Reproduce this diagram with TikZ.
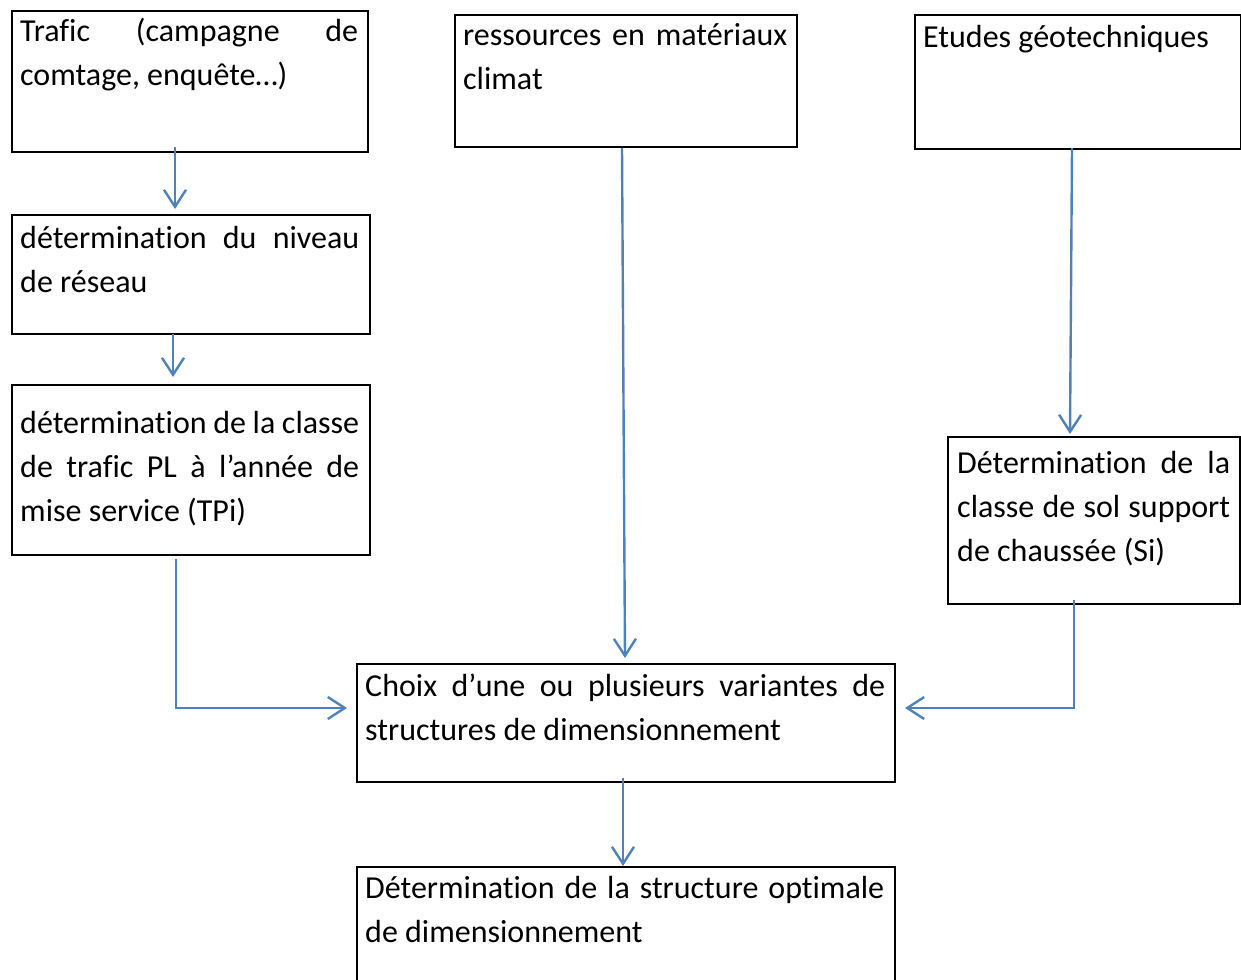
\documentclass[tikz,border=0pt]{standalone}
\usepackage{fontspec}
\setmainfont{Carlito}[RawFeature={-liga;-clig;-dlig;-calt}]
\usetikzlibrary{positioning,arrows.meta}

\definecolor{flowblue}{RGB}{79,129,189}

\tikzset{
  box/.style={draw=black, line width=2pt, anchor=north west, inner sep=0pt},
  txt/.style={anchor=north west, inner sep=0pt, align=justify},
  flow/.style={draw=flowblue, line width=2.4pt, -{Straight Barb[length=17pt, width=22pt]}}
}

\begin{document}
\begin{tikzpicture}[x=1pt, y=-1pt]

\useasboundingbox (0,0) rectangle (1241,979);
\fontsize{32}{44}\selectfont
\lefthyphenmin=64

% boxes
\node [box, minimum width=356pt, minimum height=141pt] (traf) at (11,10) {};
\node [box, minimum width=342pt, minimum height=132pt] (ress) at (454,14) {};
\node [box, minimum width=326pt, minimum height=134pt] (geo) at (914,14) {};
\node [box, minimum width=358pt, minimum height=119pt] (reseau) at (11,214) {};
\node [box, minimum width=358pt, minimum height=170pt] (classtpi) at (11,384) {};
\node [box, minimum width=292pt, minimum height=167pt] (sol) at (947,436) {};
\node [box, minimum width=538pt, minimum height=118pt] (choix) at (356,663) {};
\node [box, minimum width=538pt, minimum height=140pt] (optim) at (356,866) {};

% texts
\node [txt, text width=338pt] (traf-t) at ([xshift=9pt, yshift=-1pt]traf.north west)
  {\strut Trafic (campagne de\linebreak comtage, enquête…)};
\node [txt, text width=324pt] (ress-t) at ([xshift=9pt, yshift=-1pt]ress.north west)
  {\strut ressources en matériaux\linebreak climat};
\node [txt, text width=310pt] (geo-t) at ([xshift=9pt, yshift=-3pt]geo.north west)
  {\strut Etudes géotechniques};
\node [txt, text width=339pt] (reseau-t) at ([xshift=9pt, yshift=-3pt]reseau.north west)
  {\strut détermination du niveau\linebreak de réseau};
\node [txt, text width=339pt] (classtpi-t) at ([xshift=9pt, yshift=-18pt]classtpi.north west)
  {\strut détermination de la classe\linebreak de trafic PL à l’année de\linebreak mise service (TPi)};
\node [txt, text width=273pt] (sol-t) at ([xshift=10pt, yshift=-6pt]sol.north west)
  {\strut Détermination de la\linebreak classe de sol support\linebreak de chaussée (Si)};
\node [txt, text width=520pt] (choix-t) at ([xshift=9pt, yshift=-2pt]choix.north west)
  {\strut Choix d’une ou plusieurs variantes de\linebreak structures de dimensionnement};
\node [txt, text width=519pt] (optim-t) at ([xshift=9pt, yshift=-1pt]optim.north west)
  {\strut Détermination de la structure optimale\linebreak de dimensionnement};

% connectors
\draw [flow] ([xshift=-15pt, yshift=6pt]traf.south) -- ([xshift=-16pt, yshift=5pt]reseau.north);
\draw [flow] ([xshift=-18pt, yshift=1pt]reseau.south) -- ([xshift=-18pt, yshift=7pt]classtpi.north);
\draw [flow] ([xshift=-15pt, yshift=-3pt]classtpi.south) |- ([xshift=-9pt, yshift=15pt]choix.west);
\draw [flow] ([xshift=-4pt]ress.south) -- ([xshift=-1pt, yshift=5pt]choix.north);
\draw [flow] ([xshift=-6pt, yshift=2pt]geo.south) -- ([xshift=-24pt, yshift=2pt]sol.north);
\draw [flow] ([xshift=-20pt, yshift=5pt]sol.south) |- ([xshift=9pt, yshift=15pt]choix.east);
\draw [flow] ([xshift=-3pt, yshift=5pt]choix.south) -- ([xshift=-3pt]optim.north);

\end{tikzpicture}
\end{document}
